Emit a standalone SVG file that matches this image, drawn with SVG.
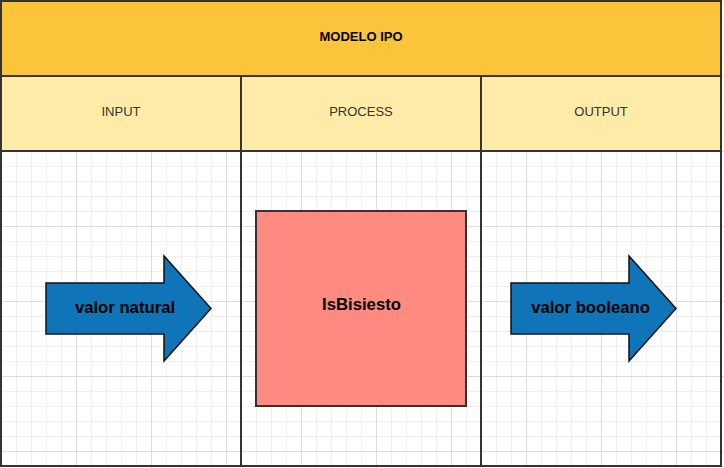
<svg xmlns="http://www.w3.org/2000/svg" width="724" height="468" viewBox="0 0 724 468">
  <style>
    .frame { fill: none; stroke: #333333; stroke-width: 2; }
    .hdr { fill: #FCC43B; }
    .sub { fill: #FFEBA8; }
    .title { font-family: "Liberation Sans", Arial, sans-serif; font-size: 13px; font-weight: bold; fill: #000000; text-anchor: middle; }
    .col { font-family: "Liberation Sans", Arial, sans-serif; font-size: 13px; fill: #333333; text-anchor: middle; }
    .big { font-family: "Liberation Sans", Arial, sans-serif; font-size: 16.7px; font-weight: bold; fill: #000000; text-anchor: middle; }
    .arrow { fill: #1074B8; stroke: #111111; stroke-width: 1.5; stroke-linejoin: miter; }
    .box { fill: #FF8A80; stroke: #333333; stroke-width: 2; }
  </style>
  <defs>
    <pattern id="grid" x="1" y="1" width="75" height="75" patternUnits="userSpaceOnUse">
      <rect x="15" y="0" width="1" height="75" fill="#EEEEEE"/>
      <rect x="30" y="0" width="1" height="75" fill="#EEEEEE"/>
      <rect x="45" y="0" width="1" height="75" fill="#EEEEEE"/>
      <rect x="60" y="0" width="1" height="75" fill="#EEEEEE"/>
      <rect x="0" y="15" width="75" height="1" fill="#EEEEEE"/>
      <rect x="0" y="30" width="75" height="1" fill="#EEEEEE"/>
      <rect x="0" y="45" width="75" height="1" fill="#EEEEEE"/>
      <rect x="0" y="60" width="75" height="1" fill="#EEEEEE"/>
      <rect x="0" y="0" width="1" height="75" fill="#DDDDDD"/>
      <rect x="0" y="0" width="75" height="1" fill="#DDDDDD"/>
    </pattern>
  </defs>
  <rect x="0" y="0" width="724" height="468" fill="#FFFFFF"/>
  <rect x="0" y="0" width="724" height="468" fill="url(#grid)"/>

  <g id="header">
    <rect class="hdr" x="1" y="1" width="720" height="75"/>
    <text class="title" x="361" y="41">MODELO IPO</text>
  </g>
  <g id="col-input">
    <rect class="sub" x="1" y="76" width="240" height="75"/>
    <text class="col" x="121" y="116">INPUT</text>
  </g>
  <g id="col-process">
    <rect class="sub" x="241" y="76" width="240" height="75"/>
    <text class="col" x="361" y="116">PROCESS</text>
  </g>
  <g id="col-output">
    <rect class="sub" x="481" y="76" width="240" height="75"/>
    <text class="col" x="601" y="116">OUTPUT</text>
  </g>
  <g id="frame">
    <rect class="frame" x="1" y="1" width="720" height="465"/>
    <line class="frame" x1="1" y1="76" x2="721" y2="76"/>
    <line class="frame" x1="1" y1="151" x2="721" y2="151"/>
    <line class="frame" x1="241" y1="76" x2="241" y2="466"/>
    <line class="frame" x1="481" y1="76" x2="481" y2="466"/>
  </g>

  <g id="input-arrow">
    <polygon class="arrow" points="46,283 164,283 164,256 211,308.5 164,361 164,334 46,334"/>
    <text class="big" x="125" y="313">valor natural</text>
  </g>
  <g id="process-box">
    <rect class="box" x="256" y="211" width="210" height="195"/>
    <text class="big" x="361.5" y="310">IsBisiesto</text>
  </g>
  <g id="output-arrow">
    <polygon class="arrow" points="511,283 629,283 629,256 676,308.5 629,361 629,334 511,334"/>
    <text class="big" x="590.5" y="313">valor booleano</text>
  </g>
  <g id="connectors"></g>
</svg>
